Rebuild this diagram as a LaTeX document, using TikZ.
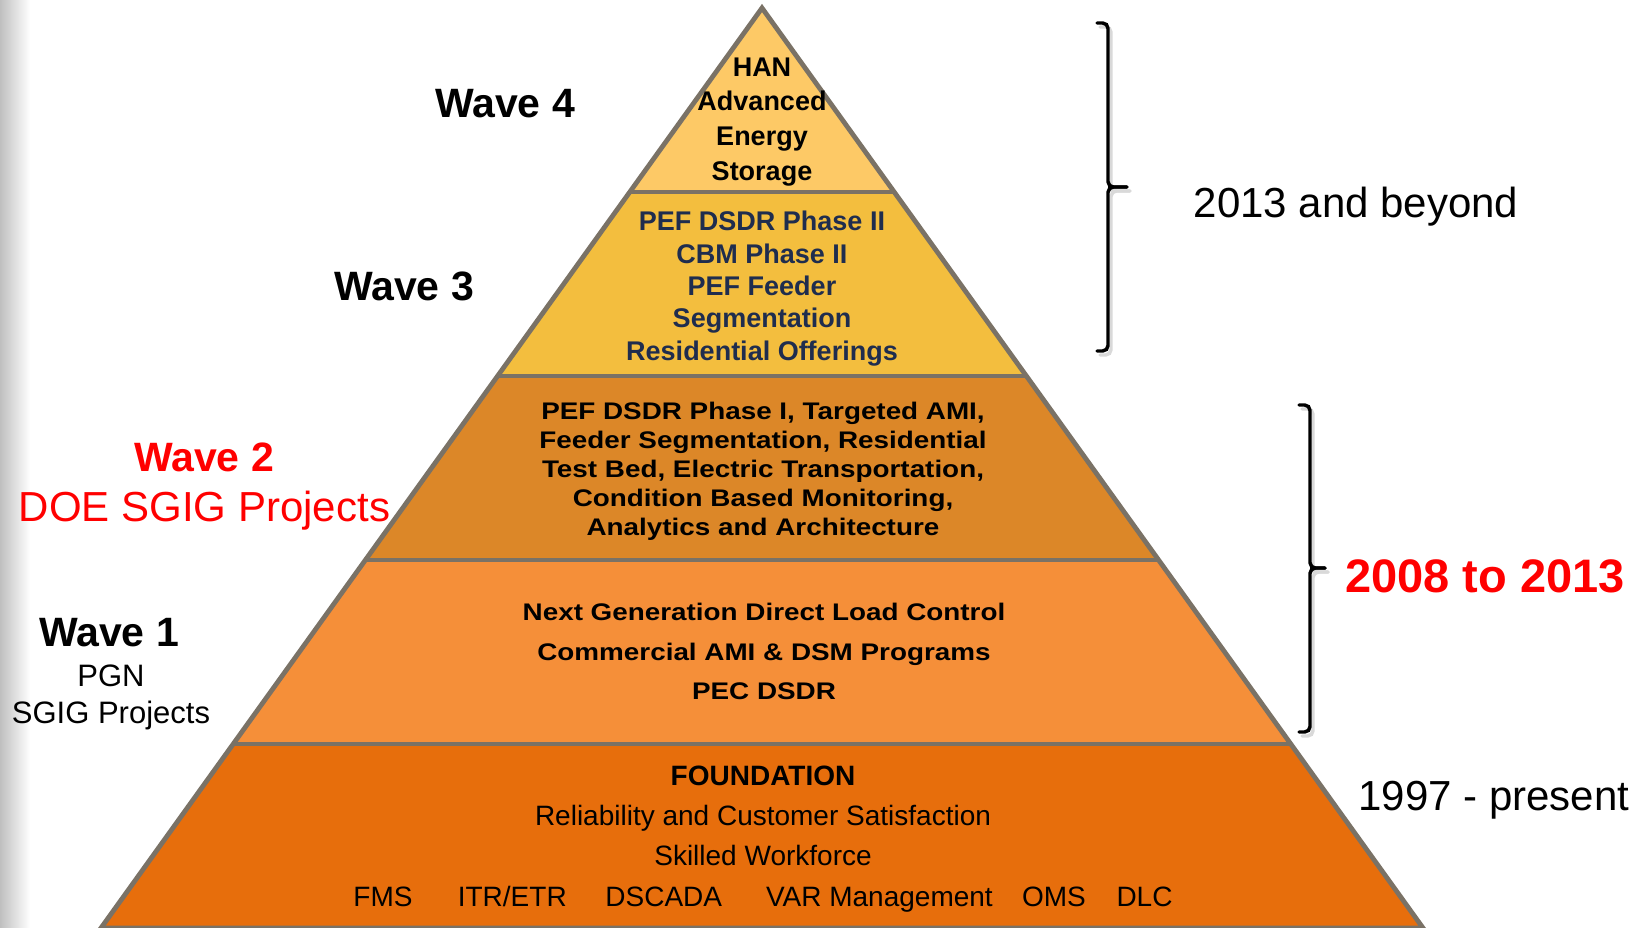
\documentclass[tikz,border=0pt]{standalone}
\usepackage{fontspec}
\setmainfont{Liberation Sans}
\newfontfamily\widesans[FakeStretch=1.16]{Liberation Sans}
\usetikzlibrary{calc}

\definecolor{wavefour}{RGB}{253,201,102}
\definecolor{wavethree}{RGB}{243,190,62}
\definecolor{wavetwo}{RGB}{220,135,40}
\definecolor{waveone}{RGB}{245,143,57}
\definecolor{found}{RGB}{231,110,12}
\definecolor{pyrgray}{RGB}{122,114,102}
\definecolor{navy}{RGB}{31,45,78}

\tikzset{
  pyredge/.style={draw=pyrgray, line width=3.6pt},
  tier/.style={align=center, anchor=base, inner sep=0pt},
  wavelabel/.style={anchor=base, inner sep=0pt, font=\fontsize{30.75pt}{36pt}\selectfont\bfseries},
  sublabel/.style={anchor=base, inner sep=0pt, font=\fontsize{23.25pt}{28pt}\selectfont},
  period/.style={anchor=base, inner sep=0pt, font=\fontsize{31.5pt}{36pt}\selectfont},
  bracket/.style={line width=2.6pt, line cap=round, rounded corners=4pt},
}

% brace: x of the bar, top y, tip y, bottom y, tip x
\newcommand{\periodbrace}[5]{%
  \foreach \dx/\dy/\col in {3/4/black!15, 0/0/black} {
    \draw[bracket, draw=\col, shift={(\dx,\dy)}] (#1-11,#2) -- (#1,#2) -- (#1,#3) -- (#5,#3);
    \draw[bracket, draw=\col, shift={(\dx,\dy)}] (#5,#3) -- (#1,#3) -- (#1,#4) -- (#1-11,#4);
  }%
}

\begin{document}
\begin{tikzpicture}[x=0.75pt, y=-0.75pt]
  \useasboundingbox (0,0) rectangle (1639,928);
  \shade[left color=black!25, right color=white] (0,0) rectangle (30,928);

  % pyramid
  \coordinate (apex) at (762,8);
  \coordinate (bl) at (101,928);
  \coordinate (br) at (1423,928);
  \foreach \t/\c in {0/wavefour, 0.2/wavethree, 0.4/wavetwo, 0.6/waveone, 0.8/found} {
    \pgfmathsetmacro\u{\t+0.2}
    \fill[\c] ($(apex)!\t!(bl)$) -- ($(apex)!\u!(bl)$) -- ($(apex)!\u!(br)$) -- ($(apex)!\t!(br)$) -- cycle;
  }
  \foreach \t in {0.2,0.4,0.6,0.8}
    \draw[pyredge] ($(apex)!\t!(bl)$) -- ($(apex)!\t!(br)$);
  \draw[pyredge] (bl) -- (apex) -- (br) -- cycle;

  % text in the tiers (placed by the baseline of the last line)
  \node[tier, font=\fontsize{20.25pt}{25.9pt}\selectfont\bfseries] (han) at (762,180)
    {HAN\\Advanced\\Energy\\Storage};
  \node[tier, text=navy, font=\fontsize{20.25pt}{24.2pt}\selectfont\bfseries] (phasetwo) at (762,360)
    {PEF DSDR Phase II\\CBM Phase II\\PEF Feeder\\Segmentation\\Residential Offerings};
  \node[tier, font=\widesans\fontsize{18pt}{21.7pt}\selectfont\bfseries] (doeproj) at (763,535.5)
    {PEF DSDR Phase I, Targeted AMI,\\Feeder Segmentation, Residential\\Test Bed, Electric Transportation,\\Condition Based Monitoring,\\Analytics and Architecture};
  \node[tier, font=\widesans\fontsize{18pt}{29.6pt}\selectfont\bfseries] (pgnproj) at (764,699.5)
    {Next Generation Direct Load Control\\Commercial AMI \& DSM Programs\\PEC DSDR};
  \node[tier, font=\fontsize{21pt}{30.25pt}\selectfont] (base) at (763,906)
    {\textbf{FOUNDATION}\\Reliability and Customer Satisfaction\\Skilled Workforce\\
     FMS\hspace{34pt}ITR/ETR\hspace{29pt}DSCADA\hspace{33pt}VAR Management\hspace{22pt}OMS\hspace{23pt}DLC};

  % waves on the left
  \node[wavelabel] (w4) at (505,117) {Wave 4};
  \node[wavelabel] (w3) at (404,300) {Wave 3};
  \node[wavelabel, text=red] (w2) at (204,471) {Wave 2};
  \node[period, text=red] (doe) at (204.5,521) {DOE SGIG Projects};
  \node[wavelabel] (w1) at (109,646) {Wave 1};
  \node[sublabel] (pgn) at (111,686) {PGN};
  \node[sublabel] (sgig) at (111,723) {SGIG Projects};

  % periods on the right
  \periodbrace{1108}{23}{187}{351}{1127}
  \periodbrace{1310}{405}{568}{732}{1325}
  \node[period] (beyond) at (1356,217) {2013 and beyond};
  \node[period, text=red, font=\fontsize{35.25pt}{40pt}\selectfont\bfseries] (recent) at (1485,592) {2008 to 2013};
  \node[period] (present) at (1494,810) {1997 - present};
\end{tikzpicture}
\end{document}
